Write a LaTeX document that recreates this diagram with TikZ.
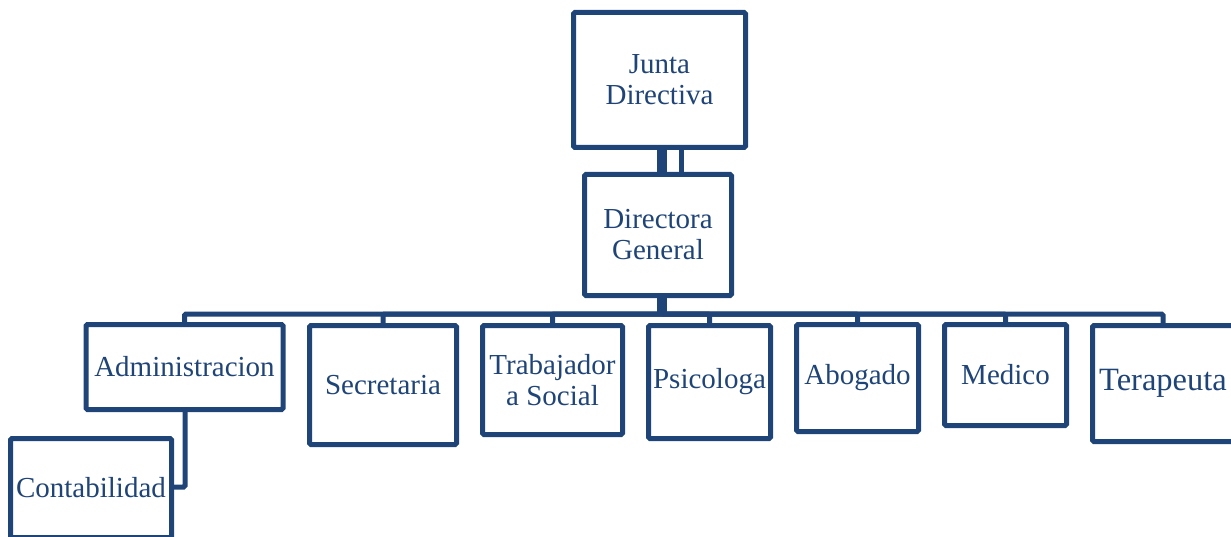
\documentclass[tikz,border=0pt]{standalone}
\usepackage{fontspec}
\setmainfont{Liberation Serif}
\definecolor{orgblue}{RGB}{31,68,120}
\begin{document}
\begin{tikzpicture}[x=1pt,y=-1pt,
  box/.style={draw=orgblue, line width=5pt, rounded corners=1.5pt, fill=white,
    inner sep=0pt, outer sep=0pt, align=center, text=orgblue,
    font=\fontsize{29}{31}\selectfont},
  conn/.style={draw=orgblue, line width=5pt, rounded corners=1.5pt},
  thickconn/.style={draw=orgblue, line width=10pt}]
\useasboundingbox (0,0) rectangle (1231,537);
% nodes
\node[box, minimum width=172pt, minimum height=135pt] (junta) at (659.5,80) {Junta\\Directiva};
\node[box, minimum width=147pt, minimum height=121pt] (dir) at (658,235) {Directora\\General};
\node[box, minimum width=197pt, minimum height=85pt] (adm) at (184.5,367) {Administracion};
\node[box, minimum width=161pt, minimum height=99pt] (conta) at (91,488) {Contabilidad};
\node[box, minimum width=147pt, minimum height=119pt] (sec) at (383,385) {Secretaria};
\node[box, minimum width=140pt, minimum height=109pt] (trab) at (552.5,380) {Trabajador\\a Social};
\node[box, minimum width=122pt, minimum height=113pt] (psi) at (709.5,382) {Psicologa};
\node[box, minimum width=122pt, minimum height=107pt] (abo) at (857.5,378) {Abogado};
\node[box, minimum width=122pt, minimum height=101pt] (med) at (1005.5,375) {Medico};
\node[box, minimum width=141pt, minimum height=116pt, font=\fontsize{32.5}{34}\selectfont] (ter) at (1163,383.5) {Terapeuta};
\coordinate (bus) at (662,314);
% connectors
\begin{scope}[on background layer/.style={}]
\draw[thickconn] ([xshift=2.5pt]junta.south) -- ([xshift=2.5pt]junta.south |- dir.north);
\draw[conn] ([xshift=21.5pt]junta.south) -- ([xshift=21.5pt]junta.south |- dir.north);
\draw[thickconn] (dir.south -| bus) -- (bus);
\draw[conn] (adm.north) |- (bus);
\draw[conn] (sec.north) |- (bus);
\draw[conn] (trab.north) |- (bus);
\draw[conn] (psi.north) |- (bus);
\draw[conn] (abo.north) |- (bus);
\draw[conn] (med.north) |- (bus);
\draw[conn] (ter.north) |- (bus);
\draw[conn] ([xshift=0.5pt]adm.south) |- ([yshift=1pt]conta.east);
\end{scope}
\end{tikzpicture}
\end{document}
